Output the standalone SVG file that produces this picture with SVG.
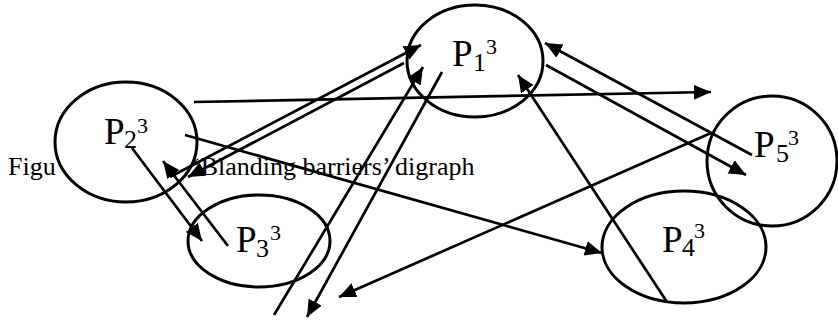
<svg xmlns="http://www.w3.org/2000/svg" width="838" height="322" viewBox="0 0 838 322">
<defs>
<marker id="ah" markerUnits="userSpaceOnUse" markerWidth="19" markerHeight="16" refX="17" refY="7.5" orient="auto">
<path d="M0,0 L17,7.5 L0,15 z" fill="#000"/>
</marker>
<style>
.n{fill:none;stroke:#000;stroke-width:3}
.t{font-family:"Liberation Serif","Times New Roman",serif;fill:#000}
.p{font-size:37px}
.sb{font-size:26px}
.sp{font-size:22px}
.cap{font-family:"Liberation Serif","Times New Roman",serif;font-size:26px;fill:#000}
.e{stroke:#000;stroke-width:2.7;fill:none;marker-end:url(#ah)}
</style>
</defs>
<rect width="838" height="322" fill="#fff"/>
<g id="caption">
<text class="cap" x="8" y="175">Figu</text>
<text class="cap" x="192" y="175">‘Blanding barriers’ digraph</text>
</g>
<g id="P1">
<ellipse class="n" cx="475" cy="61" rx="68" ry="56"/>
<text class="t p" x="452" y="66">P</text>
<text class="t sb" x="473" y="71">1</text>
<text class="t sp" x="486" y="54">3</text>
</g>
<g id="P2">
<ellipse class="n" cx="126" cy="142" rx="71" ry="60"/>
<text class="t p" x="104" y="144">P</text>
<text class="t sb" x="124" y="148">2</text>
<text class="t sp" x="137" y="133">3</text>
</g>
<g id="P3">
<ellipse class="n" cx="259" cy="241" rx="71" ry="46"/>
<text class="t p" x="236" y="252">P</text>
<text class="t sb" x="256" y="257">3</text>
<text class="t sp" x="270" y="240">3</text>
</g>
<g id="P4">
<ellipse class="n" cx="684" cy="247" rx="82" ry="56"/>
<text class="t p" x="662" y="252">P</text>
<text class="t sb" x="682" y="256">4</text>
<text class="t sp" x="694" y="238">3</text>
</g>
<g id="P5">
<ellipse class="n" cx="772" cy="161" rx="65" ry="65"/>
<text class="t p" x="754" y="157">P</text>
<text class="t sb" x="776" y="162">5</text>
<text class="t sp" x="788" y="145">3</text>
</g>
<g id="connectors">
<line class="e" x1="194" y1="102" x2="711" y2="92"/>
<line class="e" x1="185" y1="135" x2="602" y2="253"/>
<line class="e" x1="132" y1="148" x2="202" y2="241"/>
<line class="e" x1="228" y1="246" x2="163" y2="161"/>
<line class="e" x1="170" y1="177" x2="421" y2="45"/>
<line class="e" x1="404" y1="63" x2="188" y2="177"/>
<line class="e" x1="274" y1="315" x2="423" y2="67"/>
<line class="e" x1="442" y1="72" x2="307" y2="317"/>
<line class="e" x1="546" y1="65" x2="746" y2="175"/>
<line class="e" x1="752" y1="155" x2="545" y2="43"/>
<line class="e" x1="711" y1="133" x2="339" y2="297"/>
<line class="e" x1="667" y1="302" x2="518" y2="75"/>
</g>
</svg>
